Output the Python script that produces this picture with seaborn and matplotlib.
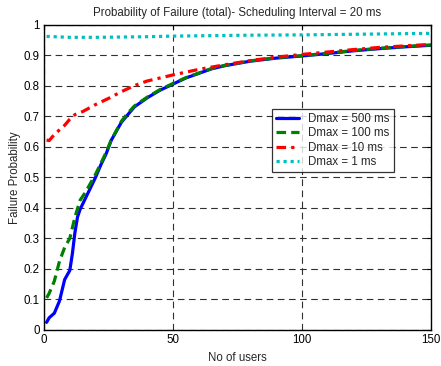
import matplotlib
matplotlib.use("Agg")
import matplotlib.pyplot as plt
import seaborn as sns
import pandas as pd

# ---- data ----
x_500 = [1, 2, 4, 6, 8, 10, 11, 12, 13, 14, 16, 18, 20, 22, 24, 26, 28, 30, 32, 35,
         40, 45, 50, 55, 60, 65, 70, 80, 90, 100, 110, 120, 130, 140, 150]
y_500 = [0.025, 0.04, 0.055, 0.095, 0.165, 0.195, 0.25, 0.32, 0.37, 0.395, 0.43, 0.465,
         0.50, 0.54, 0.575, 0.62, 0.65, 0.68, 0.70, 0.73, 0.76, 0.785, 0.805, 0.825,
         0.84, 0.855, 0.865, 0.88, 0.89, 0.897, 0.905, 0.914, 0.921, 0.927, 0.932]

x_100 = [1, 2, 4, 6, 8, 10, 12, 14, 16, 18, 20, 22, 24, 26, 28, 30, 32, 35,
         40, 45, 50, 55, 60, 65, 70, 80, 90, 100, 110, 120, 130, 140, 150]
y_100 = [0.105, 0.12, 0.16, 0.225, 0.27, 0.30, 0.37, 0.425, 0.45, 0.48, 0.51, 0.545,
         0.58, 0.62, 0.652, 0.683, 0.705, 0.733, 0.762, 0.787, 0.807, 0.826,
         0.841, 0.856, 0.866, 0.881, 0.891, 0.898, 0.906, 0.915, 0.922, 0.928, 0.933]

x_10 = [1, 2, 4, 6, 8, 10, 12, 15, 20, 25, 30, 35, 40, 45, 50, 60, 70, 80, 90,
        100, 110, 120, 130, 140, 150]
y_10 = [0.622, 0.62, 0.64, 0.655, 0.67, 0.69, 0.705, 0.715, 0.738, 0.758, 0.78, 0.80,
        0.815, 0.825, 0.835, 0.853, 0.868, 0.882, 0.893, 0.902, 0.91, 0.918, 0.925,
        0.93, 0.935]

x_1 = [1, 10, 20, 30, 40, 50, 60, 80, 100, 120, 150]
y_1 = [0.961, 0.958, 0.958, 0.959, 0.96, 0.962, 0.963, 0.965, 0.966, 0.968, 0.971]

labels = ["Dmax = 500 ms", "Dmax = 100 ms", "Dmax = 10 ms", "Dmax = 1 ms"]
colors = ["#0000ff", "#008000", "#ff0000", "#00bfbf"]
styles = ["-", (0, (3.0, 1.6)), (0, (3.0, 1.6, 1.0, 1.6)), (0, (1.0, 1.2))]

series = [(x_500, y_500), (x_100, y_100), (x_10, y_10), (x_1, y_1)]

sns.set_style("white")
plt.rcParams['font.family'] = ['Liberation Sans', 'DejaVu Sans']

FS = 8.3

fig = plt.figure(figsize=(4.41, 3.66), dpi=100)
ax = fig.add_axes([44/441, 1 - 330/366, (431 - 44)/441, (330 - 24.5)/366])

for (xs, ys), lab, col, ls in zip(series, labels, colors, styles):
    df = pd.DataFrame({"users": xs, "p": ys})
    sns.lineplot(data=df, x="users", y="p", ax=ax, color=col, linewidth=2.3,
                 label=lab, linestyle=ls)

ax.set_xlim(0, 150)
ax.set_ylim(0, 1)
ax.set_xticks([0, 50, 100, 150])
ax.set_yticks([0, 0.1, 0.2, 0.3, 0.4, 0.5, 0.6, 0.7, 0.8, 0.9, 1])
ax.set_yticklabels(["0", "0.1", "0.2", "0.3", "0.4", "0.5", "0.6", "0.7", "0.8", "0.9", "1"])
ax.tick_params(direction="in", length=3, width=0.8, labelsize=FS, colors="black",
               top=True, right=True, pad=3)
ax.grid(True, color="#303030", linestyle=(0, (6, 4)), linewidth=0.8)
for sp in ax.spines.values():
    sp.set_color("black")
    sp.set_linewidth(1.0)

ax.set_xlabel("No of users", fontsize=FS, labelpad=4)
ax.set_ylabel("Failure Probability", fontsize=FS, labelpad=2)
ax.set_title("Probability of Failure (total)- Scheduling Interval = 20 ms", fontsize=FS, pad=6)

leg = ax.legend(loc="upper left", bbox_to_anchor=((272 - 44)/387, (330 - 109)/305.5),
                fontsize=FS, frameon=True, fancybox=False, handlelength=2.0,
                borderpad=0.35, labelspacing=0.2, handletextpad=0.8, borderaxespad=0)
leg.get_frame().set_edgecolor("black")
leg.get_frame().set_linewidth(0.9)

fig.savefig("out.png", dpi=100)
